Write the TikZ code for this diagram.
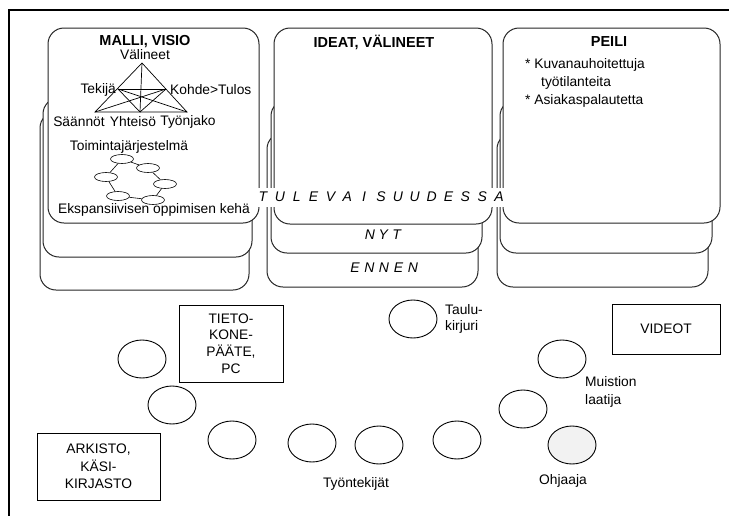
\documentclass[tikz,border=0pt]{standalone}
\usepackage{fontspec}
\setmainfont{Liberation Sans}
\usetikzlibrary{shapes.geometric}
\begin{document}
\begin{tikzpicture}[x=1pt,y=-1pt,
  card/.style={draw=black!85, line width=1pt, rounded corners=16pt, fill=white},
  lbl/.style={font=\fontsize{13.8}{16}\selectfont, inner sep=0pt},
  ttl/.style={font=\fontsize{14.5}{16}\selectfont\bfseries, inner sep=0pt},
  spaced/.style={font=\fontsize{14}{16}\selectfont\itshape, inner sep=0pt},
  tri/.style={line width=0.7pt},
  mini/.style={draw, ellipse, line width=0.6pt, minimum width=23pt, minimum height=9pt, inner sep=0pt},
  ring/.style={draw, ellipse, line width=0.9pt, minimum width=48pt, minimum height=38pt, inner sep=0pt},
  tbox/.style={draw, line width=0.9pt, align=center, inner sep=0pt, font=\fontsize{13.8}{16.7}\selectfont}
]
\useasboundingbox (0,0) rectangle (729,515);
\fill[white] (0,0) rectangle (729,515);
% frame
\draw[line width=2pt] (9,516) -- (9,10) -- (730,10);

% left stack
\draw[card] (40,112) rectangle (249,290);
\draw[card] (43,98) rectangle (252,257);
\draw[card] (48,28) rectangle (259,223);
% middle stack
\draw[card] (267,133) rectangle (478,287);
\draw[card] (271,100) rectangle (482,253);
\draw[card] (274,28) rectangle (492,224);
% right stack
\draw[card] (497,133) rectangle (708,287);
\draw[card] (500,100) rectangle (712,253);
\draw[card] (503,28) rectangle (720,223);

% titles
\node[ttl] (malli) at (145,42) {MALLI, VISIO};
\node[ttl] (ideat) at (374,42) {IDEAT, VÄLINEET};
\node[ttl] (peili) at (609,42) {PEILI};

% activity triangle
\coordinate (apex) at (142,63);
\coordinate (tek) at (118,89);
\coordinate (koh) at (166,89);
\coordinate (sl) at (95,112);
\coordinate (sr) at (187,112);
\coordinate (ym) at (140,112);
\draw[tri] (apex) -- (sl) -- (sr) -- cycle;
\draw[tri] (apex) -- (ym);
\draw[tri] (tek) -- (koh);
\draw[tri] (tek) -- (sr);
\draw[tri] (koh) -- (sl);
\draw[tri] (tek) -- (ym);
\draw[tri] (koh) -- (ym);
\node[lbl] (valineet) at (145,55) {Välineet};
\node[lbl, anchor=east] (tekija) at (116,90) {Tekijä};
\node[lbl, anchor=west] (kohde) at (170,90) {Kohde>Tulos};
\node[lbl] (saannot) at (79,122) {Säännöt};
\node[lbl] (yhteiso) at (133,122) {Yhteisö};
\node[lbl] (tyonjako) at (188,122) {Työnjako};
\node[lbl] (toiminta) at (129,147) {Toimintajärjestelmä};

% expansive learning cycle
\node[mini] (e1) at (122,159) {};
\node[mini] (e2) at (148,168) {};
\node[mini] (e3) at (106,177) {};
\node[mini] (e4) at (165,184) {};
\node[mini] (e5) at (118,196) {};
\node[mini] (e6) at (153,200) {};
\draw[line width=0.6pt] (e1) -- (e3) -- (e5) -- (e6) -- (e4) -- (e2) -- (e1);
\node[lbl] (ekspansio) at (154,210) {Ekspansiivisen oppimisen kehä};

% peili text
\node[lbl, anchor=west] (peili1) at (525,65) {* Kuvanauhoitettuja};
\node[lbl, anchor=west] (peili2) at (541,83) {työtilanteita};
\node[lbl, anchor=west] (peili3) at (525,101) {* Asiakaspalautetta};

% time band
\fill[white] (254,188) rectangle (508,207);
\foreach \c [count=\i from 0] in {T,U,L,E,V,A,I,S,U,U,D,E,S,S,A}
  \node[spaced] (tul\i) at ({263+16.86*\i},197) {\c};
\foreach \c [count=\i from 0] in {N,Y,T}
  \node[spaced] (nyt\i) at ({370+13.3*\i},235) {\c};
\foreach \c [count=\i from 0] in {E,N,N,E,N}
  \node[spaced] (ennen\i) at ({355+14.5*\i},268) {\c};

% lower area: boxes
\node[tbox, minimum width=104pt, minimum height=77pt] (pc) at (231,343.5) {TIETO-\\KONE-\\PÄÄTE,\\PC};
\node[tbox, minimum width=123pt, minimum height=67pt, font=\fontsize{13.8}{17.5}\selectfont] (arkisto) at (98.5,466.5) {ARKISTO,\\KÄSI-\\KIRJASTO};
\node[tbox, minimum width=108pt, minimum height=50pt] (videot) at (666,329) {VIDEOT};

% people
\node[ring] (r1) at (142,359) {};
\node[ring] (r2) at (172,405) {};
\node[ring] (r3) at (232,440) {};
\node[ring] (r4) at (312,443) {};
\node[ring] (r5) at (379,445) {};
\node[ring] (r6) at (457,440) {};
\node[ring] (r7) at (523,409) {};
\node[ring] (r8) at (562,359) {};
\node[ring, fill=black!5] (r9) at (572,445) {};
\node[ring] (r10) at (413,319) {};

\node[lbl, anchor=west, align=left] (taulu) at (445,319) {Taulu-\\kirjuri};
\node[lbl, anchor=west, align=left, font=\fontsize{13.8}{18}\selectfont] (muistio) at (585,392) {Muistion\\laatija};
\node[lbl] (ohjaaja) at (563,481) {Ohjaaja};
\node[lbl] (tyontekijat) at (356,484) {Työntekijät};
\end{tikzpicture}
\end{document}
